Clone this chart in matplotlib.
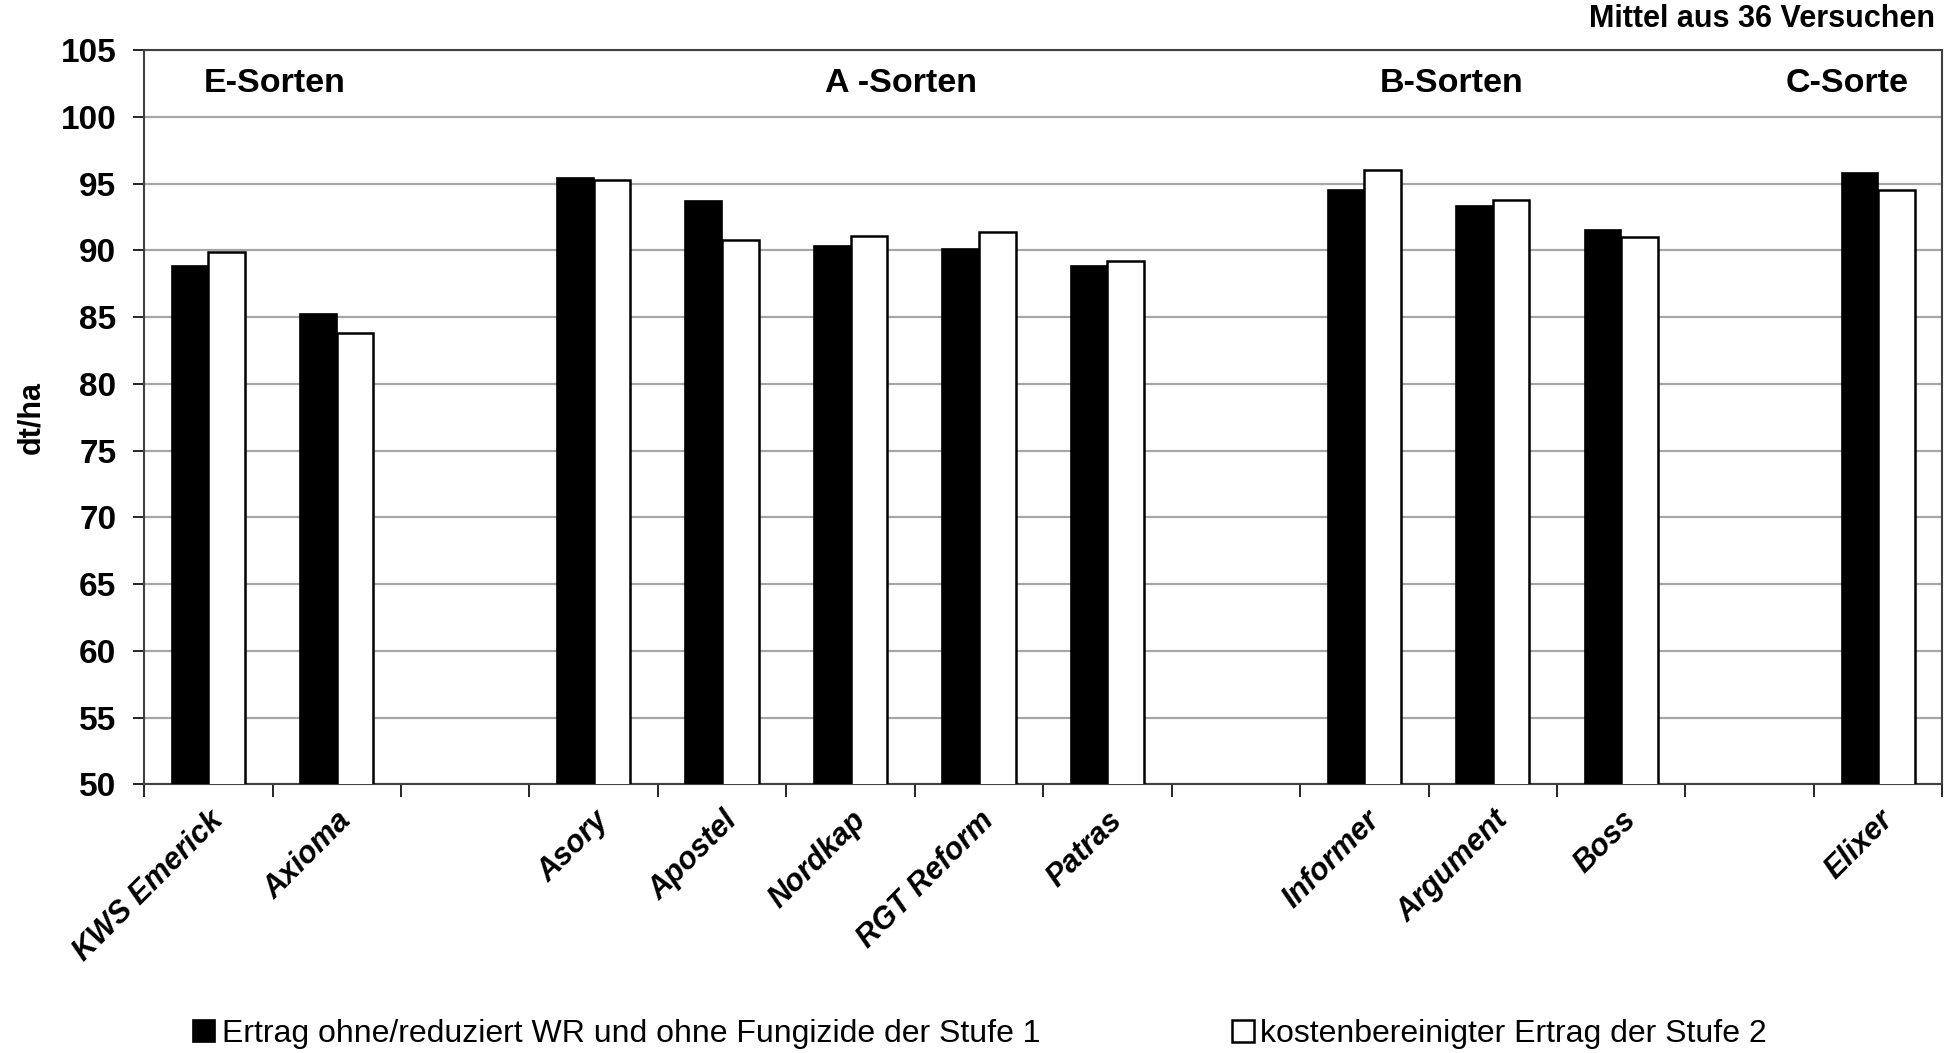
import matplotlib
matplotlib.use("Agg")
import matplotlib.pyplot as plt
import numpy as np

# slots incl. empty gaps between the quality groups
sorten = ["KWS Emerick", "Axioma", "", "Asory", "Apostel", "Nordkap", "RGT Reform",
          "Patras", "", "Informer", "Argument", "Boss", "", "Elixer"]
stufe1 = [88.8, 85.2, np.nan, 95.4, 93.7, 90.3, 90.1, 88.8, np.nan, 94.5, 93.3, 91.5, np.nan, 95.8]
stufe2 = [89.9, 83.8, np.nan, 95.3, 90.8, 91.1, 91.4, 89.2, np.nan, 96.0, 93.8, 91.0, np.nan, 94.5]
gruppen = ["E-Sorten", "A -Sorten", "B-Sorten", "C-Sorte"]
gruppen_x = [0.52, 5.39, 9.68, 12.76]

plt.rcParams['font.family'] = ['Liberation Sans', 'DejaVu Sans']

fig = plt.figure(figsize=(19.6, 10.53), dpi=100)
ax = fig.add_axes([0.0735, 0.255, 0.9175, 0.6975])

x = np.arange(len(sorten))
w = 0.285
ax.bar(x - w / 2, stufe1, w, color="black", edgecolor="black", linewidth=1.2,
       label="Ertrag ohne/reduziert WR und ohne Fungizide der Stufe 1", zorder=3)
ax.bar(x + w / 2, stufe2, w, color="white", edgecolor="black", linewidth=1.8,
       label="kostenbereinigter Ertrag der Stufe 2", zorder=3)

ax.set_xlim(-0.5, len(sorten) - 0.5)
ax.set_ylim(50, 105)
ax.set_yticks(np.arange(50, 106, 5))
ax.yaxis.grid(True, color="#a6a6a6", linewidth=1.6, zorder=0)
ax.tick_params(axis="y", labelsize=24, length=8, width=1.2, direction="out", pad=12)
for lab in ax.get_yticklabels():
    lab.set_fontweight("bold")

ax.set_xticks(x)
ax.set_xticklabels(sorten, rotation=45, ha="right", rotation_mode="anchor",
                   fontsize=22, fontweight="bold", fontstyle="italic")
ax.tick_params(axis="x", length=0, pad=15)
ax.set_xticks(np.arange(-0.5, len(sorten), 1), minor=True)
ax.tick_params(axis="x", which="minor", length=9, width=1.2, direction="out")

for s in ax.spines.values():
    s.set_color("#404040")
    s.set_linewidth(1.5)

ax.set_ylabel("dt/ha", fontsize=22, fontweight="bold", labelpad=10)

for g, gx in zip(gruppen, gruppen_x):
    ax.text(gx, 102.5, g, ha="center", va="center", fontsize=24.5, fontweight="bold")

fig.text(0.987, 0.982, "Mittel aus 36 Versuchen", ha="right", va="center",
         fontsize=22, fontweight="bold")

fig.legend(loc="center", bbox_to_anchor=(0.5, 0.018), ncol=2, frameon=False,
           fontsize=23, handlelength=0.7, handleheight=0.7, handletextpad=0.2,
           columnspacing=6.0)

fig.savefig("out.png", dpi=100)
